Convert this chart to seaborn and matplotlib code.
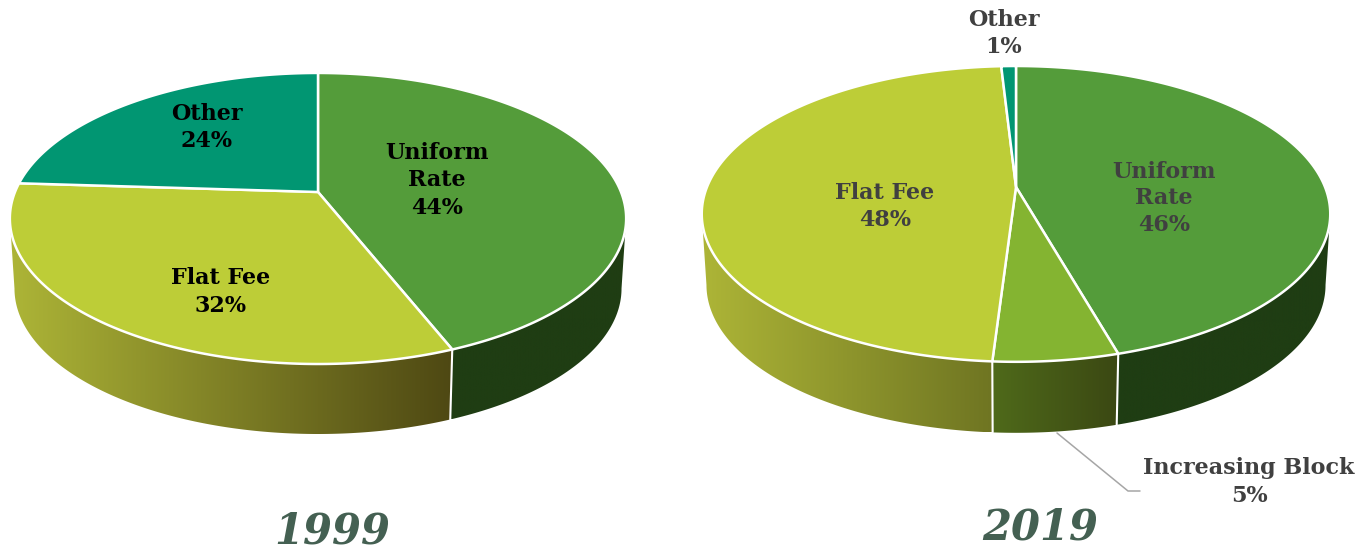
# Two tilted 3D pies, 1999 against 2019
import numpy as np
import seaborn as sns
import matplotlib.pyplot as plt
from matplotlib.patches import Polygon

# Data (clockwise from 12 o'clock)
sections_1999 = ['Uniform Rate', 'Flat Fee', 'Other']
shares_1999 = [44, 32, 24]
sections_2019 = ['Uniform Rate', 'Increasing Block', 'Flat Fee', 'Other']
shares_2019 = [45.6, 5.4, 48.1, 0.9]  # angles as drawn in the picture
pct_1999 = ['44%', '32%', '24%']
pct_2019 = ['46%', '5%', '48%', '1%']

top_colors = {'Uniform Rate': '#549c3a', 'Flat Fee': '#bdcd37',
              'Other': '#019672', 'Increasing Block': '#84b431'}
wall_colors = {
    1999: {'Uniform Rate': ('#1f3d13', '#1f3d13'), 'Flat Fee': ('#adb537', '#4e4813'),
           'Other': ('#019672', '#019672')},
    2019: {'Uniform Rate': ('#1f3d13', '#1f3d13'), 'Flat Fee': ('#adb537', '#6f7522'),
           'Increasing Block': ('#4f6a1a', '#3b4813'), 'Other': ('#019672', '#019672')},
}

sns.set_theme(style='white')
plt.rcParams['font.family'] = ['DejaVu Serif']

fig = plt.figure(figsize=(13.69, 5.52), dpi=100)
ax = fig.add_axes([0, 0, 1, 1])
ax.set_xlim(0, 1369)
ax.set_ylim(552, 0)
ax.axis('off')

PERSP = 0.182
# where the rim is widest on screen, the wall is only seen between these
FRONT_A = np.arccos(-PERSP)
FRONT_B = 2 * np.pi - FRONT_A


def project(theta, cx, cy, rx, ry):
    # circle seen in perspective, so the hub sits above the ellipse centre
    u, v = np.sin(theta), np.cos(theta)
    w = 1 + PERSP * v
    return cx + rx * u / w, cy - ry * v / w


def draw_pie(year, sections, shares, cx, cy, rx, ry, depth):
    edges = np.radians(np.cumsum([0] + list(shares)) / sum(shares) * 360)

    # side walls first, the top face covers the far half
    for name, a, b in zip(sections, edges[:-1], edges[1:]):
        lo, hi = max(a, FRONT_A), min(b, FRONT_B)
        if lo >= hi:
            continue
        th = np.linspace(lo, hi, 200)
        x_top, y_top = project(th, cx, cy, rx, ry)
        x_bot, y_bot = project(th, cx, cy, rx * 0.985, ry)
        y_bot = y_bot + depth
        pts = np.r_[np.c_[x_top, y_top], np.c_[x_bot, y_bot][::-1]]
        c0, c1 = wall_colors[year][name]
        cmap = sns.blend_palette([c0, c1], as_cmap=True)
        x0, x1 = pts[:, 0].min(), pts[:, 0].max()
        im = ax.imshow(np.linspace(0, 1, 256).reshape(1, -1), cmap=cmap, aspect='auto',
                       extent=[x0, x1, pts[:, 1].max(), pts[:, 1].min()], zorder=2)
        im.set_clip_path(Polygon(pts, closed=True, transform=ax.transData))
        # seam between two walls
        if lo == a:
            ax.plot([x_top[0], x_bot[0]], [y_top[0], y_bot[0]], color='white', lw=1.5, zorder=3)
    ax.set_xlim(0, 1369)
    ax.set_ylim(552, 0)

    # top face
    for name, a, b in zip(sections, edges[:-1], edges[1:]):
        x, y = project(np.linspace(a, b, 200), cx, cy, rx, ry)
        ax.fill(np.r_[cx, x], np.r_[cy, y], color=top_colors[name],
                ec='white', lw=1.8, joinstyle='round', zorder=4)


draw_pie(1999, sections_1999, shares_1999, 318, 192, 303, 140.7, 70)
draw_pie(2019, sections_2019, shares_2019, 1016, 187, 309, 143, 71)

# Labels
lab = dict(ha='center', va='center', fontweight='bold', fontsize=16, zorder=6)
ax.text(437, 153, 'Uniform', color='black', **lab)
ax.text(437, 180, 'Rate', color='black', **lab)
ax.text(437, 208, pct_1999[0], color='black', **lab)
ax.text(221, 278, sections_1999[1], color='black', **lab)
ax.text(221, 306, pct_1999[1], color='black', **lab)
ax.text(207, 114, sections_1999[2], color='black', **lab)
ax.text(207, 141, pct_1999[2], color='black', **lab)

grey = '#404040'
ax.text(1164, 172, 'Uniform', color=grey, **lab)
ax.text(1164, 198, 'Rate', color=grey, **lab)
ax.text(1164, 225, pct_2019[0], color=grey, **lab)
ax.text(885, 193, sections_2019[2], color=grey, **lab)
ax.text(885, 220, pct_2019[2], color=grey, **lab)
ax.text(1004, 20, sections_2019[3], color=grey, **lab)
ax.text(1004, 47, pct_2019[3], color=grey, **lab)
ax.text(1249, 468, sections_2019[1], color=grey, **lab)
ax.text(1249, 496, pct_2019[1], color=grey, **lab)

# Leader line for the small slice
ax.plot([1057, 1128, 1140], [433, 491, 491], color='#a6a6a6', lw=1.1, zorder=1)

# Years
year_style = dict(ha='center', va='center', fontweight='bold', fontstyle='italic',
                  fontsize=30, color='#446052')
ax.text(332, 531, '1999', **year_style)
ax.text(1040, 528, '2019', **year_style)

fig.savefig('out.png', dpi=100)
